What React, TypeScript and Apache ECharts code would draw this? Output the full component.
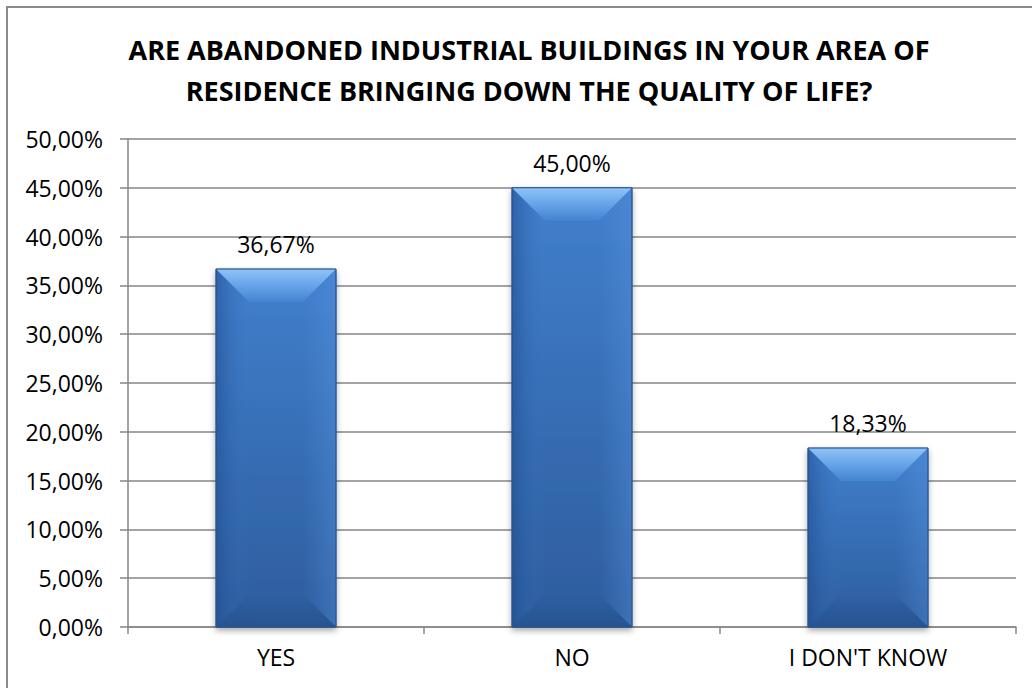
import React, { useEffect, useRef } from "react";
import * as echarts from "echarts";

const titleLines = [
  "ARE ABANDONED INDUSTRIAL BUILDINGS IN YOUR AREA OF",
  "RESIDENCE BRINGING DOWN THE QUALITY OF LIFE?",
];
const categories = ["YES", "NO", "I DON'T KNOW"];
const values = [0.3667, 0.45, 0.1833];
const yMin = 0;
const yMax = 0.5;
const yInterval = 0.05;

const FONT = "'Open Sans', 'Noto Sans', sans-serif";

const pct = (v: number) => (v * 100).toFixed(2).replace(".", ",") + "%";

export default function App() {
  const ref = useRef<HTMLDivElement>(null);

  useEffect(() => {
    if (!ref.current) return;
    const chart = echarts.init(ref.current, undefined, { renderer: "svg" });

    const renderItem = (params: any, api: any) => {
      const idx = api.value(0);
      const val = api.value(1);
      const top = api.coord([idx, val]);
      const base = api.coord([idx, 0]);
      const w = api.size([1, 0])[0] * 0.405;
      const x0 = top[0] - w / 2;
      const x1 = top[0] + w / 2;
      const y0 = top[1];
      const yb = base[1];
      const h = yb - y0;
      const b = Math.min(33, h / 2.2);
      const lin = (x: number, y: number, x2: number, y2: number, stops: [number, string][]) =>
        new echarts.graphic.LinearGradient(
          x, y, x2, y2,
          stops.map(([offset, color]) => ({ offset, color }))
        );
      return {
        type: "group",
        children: [
          {
            type: "rect",
            shape: { x: x0, y: y0, width: w, height: h },
            style: {
              fill: lin(0, 0, 0, 1, [
                [0, "#417fcd"],
                [1, "#2d5d9d"],
              ]),
              stroke: "#2a5592",
              lineWidth: 1,
              shadowBlur: 6,
              shadowOffsetX: 0,
              shadowOffsetY: 3,
              shadowColor: "rgba(0,0,0,0.35)",
            },
          },
          {
            type: "polygon",
            shape: {
              points: [
                [x0, y0],
                [x0 + b, y0 + b],
                [x0 + b, yb - b],
                [x0, yb],
              ],
            },
            style: {
              fill: lin(0, 0, 1, 0, [
                [0, "rgba(30,75,140,0.55)"],
                [1, "rgba(60,120,200,0)"],
              ]),
            },
          },
          {
            type: "polygon",
            shape: {
              points: [
                [x1, y0],
                [x1 - b, y0 + b],
                [x1 - b, yb - b],
                [x1, yb],
              ],
            },
            style: {
              fill: lin(0, 0, 1, 0, [
                [0, "rgba(90,150,225,0)"],
                [1, "rgba(90,150,225,0.35)"],
              ]),
            },
          },
          {
            type: "polygon",
            shape: {
              points: [
                [x0, yb],
                [x0 + b, yb - b],
                [x1 - b, yb - b],
                [x1, yb],
              ],
            },
            style: {
              fill: lin(0, 0, 0, 1, [
                [0, "rgba(35,75,135,0)"],
                [1, "rgba(30,70,130,0.45)"],
              ]),
            },
          },
          {
            type: "polygon",
            shape: {
              points: [
                [x0, y0],
                [x1, y0],
                [x1 - b, y0 + b],
                [x0 + b, y0 + b],
              ],
            },
            style: {
              fill: lin(0, 0, 0, 1, [
                [0, "#8fc4f6"],
                [0.5, "#66a3e8"],
                [1, "#4483d0"],
              ]),
            },
          },
          {
            type: "rect",
            shape: { x: x0, y: y0, width: w, height: h },
            style: { fill: "none", stroke: "#2a5592", lineWidth: 1 },
          },
          {
            type: "text",
            style: {
              text: pct(val),
              x: top[0],
              y: y0 - 25,
              align: "center",
              verticalAlign: "middle",
              fill: "#000",
              fontSize: 23,
              fontFamily: FONT,
            },
          },
        ],
      };
    };

    chart.setOption({
      animation: false,
      backgroundColor: "#ffffff",
      title: {
        text: titleLines.join("\n"),
        left: 524,
        textAlign: "center",
        top: 24,
        textStyle: {
          fontFamily: FONT,
          fontWeight: "bold",
          fontSize: 27,
          lineHeight: 41,
          color: "#000",
        },
      },
      graphic: [
        {
          type: "rect",
          shape: { x: 7, y: 7, width: 1060, height: 720 },
          style: { fill: "none", stroke: "#8a8a8a", lineWidth: 2 },
          silent: true,
        },
      ],
      grid: { left: 128, right: 16, top: 139, bottom: 61 },
      xAxis: {
        type: "category",
        data: categories,
        axisLine: { show: true, lineStyle: { color: "#868686", width: 1.5 } },
        axisTick: { show: true, length: 7, alignWithLabel: false, lineStyle: { color: "#868686", width: 1.5 } },
        axisLabel: { color: "#000", fontSize: 23, fontFamily: FONT, margin: 18 },
      },
      yAxis: {
        type: "value",
        min: yMin,
        max: yMax,
        interval: yInterval,
        axisLine: { show: true, lineStyle: { color: "#868686", width: 1.5 } },
        axisTick: { show: true, length: 8, lineStyle: { color: "#868686", width: 1.5 } },
        splitLine: { show: true, lineStyle: { color: "#868686", width: 1.5 } },
        axisLabel: {
          color: "#000",
          fontSize: 23,
          fontFamily: FONT,
          margin: 25,
          formatter: (v: number) => pct(v),
        },
      },
      series: [
        {
          type: "custom",
          renderItem,
          data: values.map((v, i) => [i, v]),
          encode: { x: 0, y: 1 },
          clip: false,
          z: 5,
        },
      ],
    });

    return () => chart.dispose();
  }, []);

  return (
    <div
      ref={ref}
      style={{ position: "fixed", left: 0, top: 0, width: 1032, height: 688 }}
    />
  );
}
